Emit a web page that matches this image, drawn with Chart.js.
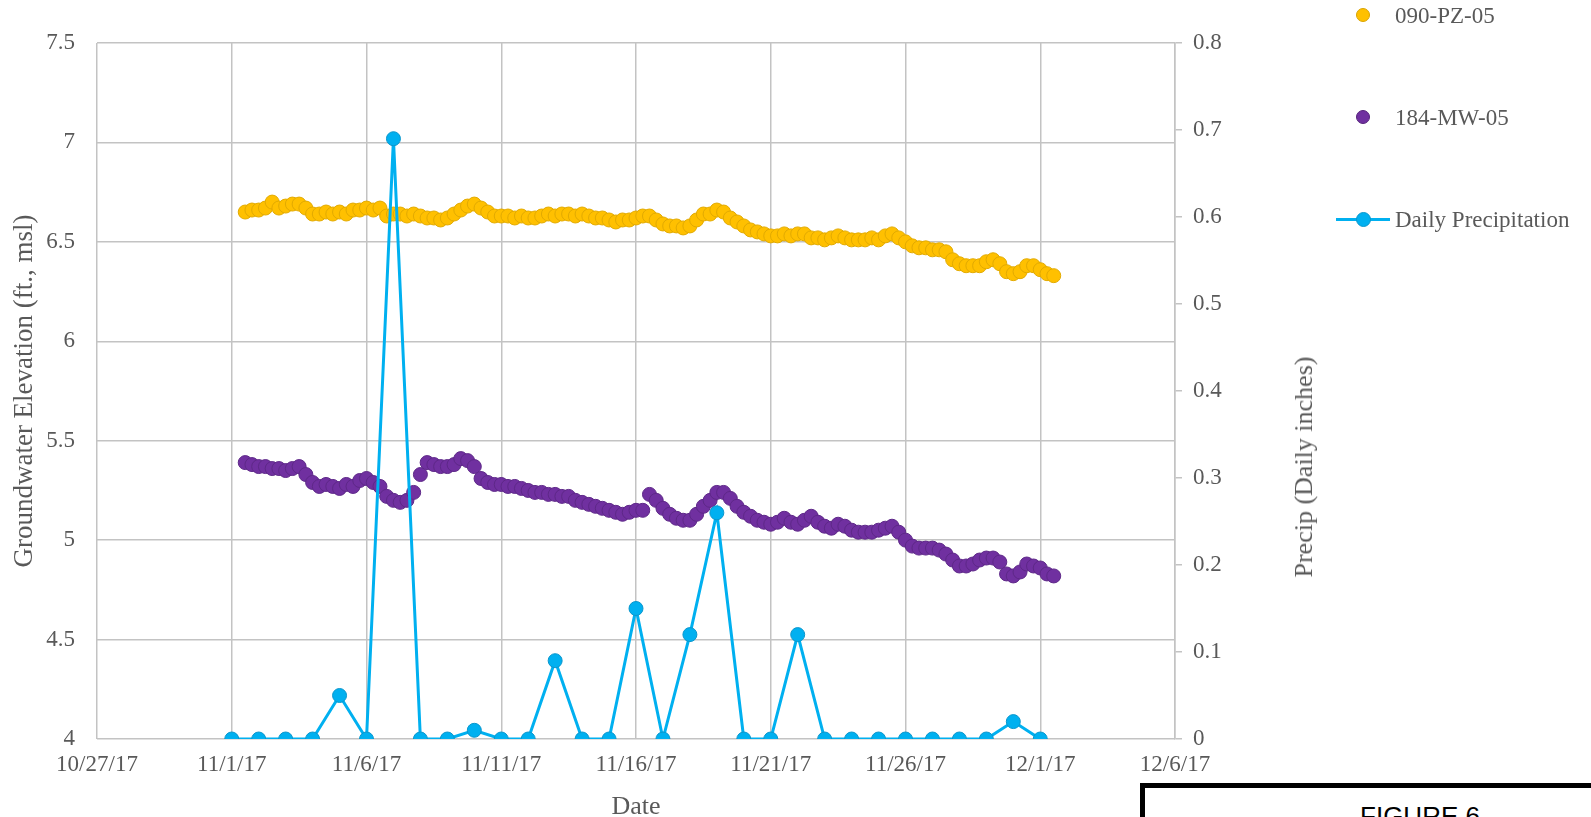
<!DOCTYPE html>
<html>
<head>
<meta charset="utf-8">
<script src="https://cdn.jsdelivr.net/npm/chart.js@4.4.0/dist/chart.umd.min.js"></script>
<style>
html,body{margin:0;padding:0;background:#fff;}
#wrap{position:relative;width:1591px;height:817px;overflow:hidden;background:#fff;}
#c{position:absolute;left:0;top:0;}
.lg{position:absolute;font-family:'Liberation Serif','Times New Roman',serif;font-size:23px;line-height:23px;color:#595959;white-space:nowrap;}
.dot{position:absolute;border-radius:50%;box-sizing:border-box;}
#ytitle2{position:absolute;left:1304px;top:467px;transform:translate(-50%,-50%) rotate(-90deg);font-family:'Liberation Serif','Times New Roman',serif;font-size:26px;line-height:26px;color:#595959;white-space:nowrap;}
#figbox{position:absolute;left:1140px;top:783px;width:620px;height:200px;border:5px solid #000;box-sizing:border-box;background:#fff;}
#figtxt{position:absolute;left:1420px;top:803px;transform:translateX(-50%);font-family:'Liberation Sans',Arial,sans-serif;font-size:26px;line-height:26px;color:#000;white-space:nowrap;}
</style>
</head>
<body>
<div id="wrap">
  <canvas id="c" width="1591" height="817"></canvas>
  <div class="dot" style="left:1356px;top:8px;width:14px;height:14px;background:#FFC000;border:1px solid #D9A300;"></div>
  <div class="lg" style="left:1395px;top:4px;">090-PZ-05</div>
  <div class="dot" style="left:1356px;top:110px;width:14px;height:14px;background:#7030A0;border:1px solid #55237A;"></div>
  <div class="lg" style="left:1395px;top:106px;">184-MW-05</div>
  <div style="position:absolute;left:1336px;top:218px;width:54px;height:3px;background:#00B0F0;"></div>
  <div class="dot" style="left:1356px;top:212px;width:15px;height:15px;background:#00B0F0;border:1px solid #0A96CC;"></div>
  <div class="lg" style="left:1395px;top:208px;">Daily Precipitation</div>
  <div id="ytitle2">Precip (Daily inches)</div>
  <div id="figbox"></div>
  <div id="figtxt">FIGURE 6</div>
</div>
<script>
// ---------------- data ----------------
const baseDate = '11/1/17';                 // day 0 of the x axis
const xTickLabels = ['10/27/17','11/1/17','11/6/17','11/11/17','11/16/17','11/21/17','11/26/17','12/1/17','12/6/17'];
const leftTicks = [4, 4.5, 5, 5.5, 6, 6.5, 7, 7.5];
const rightTicks = [0, 0.1, 0.2, 0.3, 0.4, 0.5, 0.6, 0.7, 0.8];

const precipDates = ['11/1/17','11/2/17','11/3/17','11/4/17','11/5/17','11/6/17','11/7/17','11/8/17',
  '11/9/17','11/10/17','11/11/17','11/12/17','11/13/17','11/14/17','11/15/17','11/16/17','11/17/17',
  '11/18/17','11/19/17','11/20/17','11/21/17','11/22/17','11/23/17','11/24/17','11/25/17','11/26/17',
  '11/27/17','11/28/17','11/29/17','11/30/17','12/1/17'];
const precipInches = [0,0,0,0,0.05,0,0.69,0,0,0.01,0,0,0.09,0,0,0.15,0,0.12,0.26,0,0,0.12,0,0,0,0,0,0,0,0.02,0];

// groundwater readings, one every 6 hours starting 11/1/17 12:00
const gwFirstReading = '11/1/17 12:00';
const gwIntervalHours = 6;
const pz05 = [
 6.65,6.66,
 6.66,6.67,6.70,6.67,
 6.68,6.69,6.69,6.67,
 6.64,6.64,6.65,6.64,
 6.65,6.64,6.66,6.66,
 6.67,6.66,6.67,6.63,
 6.64,6.64,6.63,6.64,
 6.63,6.62,6.62,6.61,
 6.62,6.64,6.66,6.68,
 6.69,6.67,6.65,6.63,
 6.63,6.63,6.62,6.63,
 6.62,6.62,6.63,6.64,
 6.63,6.64,6.64,6.63,
 6.64,6.63,6.62,6.62,
 6.61,6.60,6.61,6.61,
 6.62,6.63,6.63,6.61,
 6.59,6.58,6.58,6.57,
 6.58,6.61,6.64,6.64,
 6.66,6.65,6.62,6.60,
 6.58,6.56,6.55,6.54,
 6.53,6.53,6.54,6.53,
 6.54,6.54,6.52,6.52,
 6.51,6.52,6.53,6.52,
 6.51,6.51,6.51,6.52,
 6.51,6.53,6.54,6.52,
 6.50,6.48,6.47,6.47,
 6.46,6.46,6.45,6.41,
 6.39,6.38,6.38,6.38,
 6.40,6.41,6.39,6.35,
 6.34,6.35,6.38,6.38,
 6.36,6.34,6.33];
const mw05 = [
 5.39,5.38,
 5.37,5.37,5.36,5.36,
 5.35,5.36,5.37,5.33,
 5.29,5.27,5.28,5.27,
 5.26,5.28,5.27,5.30,
 5.31,5.29,5.27,5.22,
 5.20,5.19,5.20,5.24,
 5.33,5.39,5.38,5.37,
 5.37,5.38,5.41,5.40,
 5.37,5.31,5.29,5.28,
 5.28,5.27,5.27,5.26,
 5.25,5.24,5.24,5.23,
 5.23,5.22,5.22,5.20,
 5.19,5.18,5.17,5.16,
 5.15,5.14,5.13,5.14,
 5.15,5.15,5.23,5.20,
 5.16,5.13,5.11,5.10,
 5.10,5.13,5.17,5.20,
 5.24,5.24,5.21,5.17,
 5.14,5.12,5.10,5.09,
 5.08,5.09,5.11,5.09,
 5.08,5.10,5.12,5.09,
 5.07,5.06,5.08,5.07,
 5.05,5.04,5.04,5.04,
 5.05,5.06,5.07,5.04,
 5.00,4.97,4.96,4.96,
 4.96,4.95,4.93,4.90,
 4.87,4.87,4.88,4.90,
 4.91,4.91,4.89,4.83,
 4.82,4.84,4.88,4.87,
 4.86,4.83,4.82];

// ---------------- helpers ----------------
function parseDate(s){
  const [d, t] = s.split(' ');
  const [m, day, yy] = d.split('/').map(Number);
  let h = 0, mi = 0;
  if (t) { [h, mi] = t.split(':').map(Number); }
  return new Date(2000 + yy, m - 1, day, h, mi);
}
const base = parseDate(baseDate);
const toDay = s => (parseDate(s) - base) / 86400000;
const gwStart = toDay(gwFirstReading);
const gwPoints = arr => arr.map((v, i) => ({x: gwStart + i * gwIntervalHours / 24, y: v}));
const precipPoints = precipDates.map((d, i) => ({x: toDay(d), y: precipInches[i]}));
const xMin = toDay(xTickLabels[0]), xMax = toDay(xTickLabels[xTickLabels.length - 1]);

const TXT = '#595959';
const GRID = '#C3C3C3';
const serif = "'Liberation Serif','Times New Roman',serif";

new Chart(document.getElementById('c'), {
  type: 'scatter',
  data: {
    datasets: [
      {
        label: 'Daily Precipitation', data: precipPoints, yAxisID: 'y2', showLine: true, order: 0,
        borderColor: '#00B0F0', borderWidth: 3, tension: 0,
        pointRadius: 7, pointBackgroundColor: '#00B0F0', pointBorderColor: '#0A96CC', pointBorderWidth: 1
      },
      {
        label: '184-MW-05', data: gwPoints(mw05), yAxisID: 'y', order: 1,
        pointRadius: 7, backgroundColor: '#7030A0', borderColor: '#5E2888', pointBorderWidth: 1
      },
      {
        label: '090-PZ-05', data: gwPoints(pz05), yAxisID: 'y', order: 2,
        pointRadius: 7, backgroundColor: '#FFC000', borderColor: '#E2AA00', pointBorderWidth: 1
      }
    ]
  },
  options: {
    responsive: false, animation: false,
    layout: {padding: {top: 43, left: 0, right: 0, bottom: 0}},
    plugins: {legend: {display: false}, tooltip: {enabled: false}},
    scales: {
      x: {
        type: 'linear', position: 'bottom', min: xMin, max: xMax,
        afterBuildTicks: s => { s.ticks = xTickLabels.map(l => ({value: toDay(l)})); },
        ticks: {
          callback: (v) => { const i = xTickLabels.findIndex(l => Math.abs(toDay(l) - v) < 1e-6); return i >= 0 ? xTickLabels[i] : ''; },
          color: TXT, font: {family: serif, size: 23}, padding: 12, maxRotation: 0, autoSkip: false
        },
        grid: {color: GRID, lineWidth: 1.5, drawTicks: false},
        border: {display: false},
        title: {display: true, text: 'Date', color: TXT, font: {family: serif, size: 26, lineHeight: 0.78}, padding: {top: 0, bottom: 0}},
        afterFit: s => { s.height = 78; }
      },
      y: {
        type: 'linear', position: 'left', min: leftTicks[0], max: leftTicks[leftTicks.length - 1],
        afterBuildTicks: s => { s.ticks = leftTicks.map(v => ({value: v})); },
        ticks: {callback: v => String(v), color: TXT, font: {family: serif, size: 23}, padding: 22},
        grid: {color: GRID, lineWidth: 1.5, drawTicks: false},
        border: {display: false},
        title: {display: true, text: 'Groundwater Elevation (ft., msl)', color: TXT, font: {family: serif, size: 27, lineHeight: 1.2}, padding: {top: 9, bottom: 0}},
        afterFit: s => { s.width = 97; }
      },
      y2: {
        type: 'linear', position: 'right', min: rightTicks[0], max: rightTicks[rightTicks.length - 1],
        afterBuildTicks: s => { s.ticks = rightTicks.map(v => ({value: v})); },
        ticks: {callback: v => String(Math.round(v * 10) / 10), color: TXT, font: {family: serif, size: 23}, padding: 11},
        grid: {drawOnChartArea: false, color: GRID, lineWidth: 1.5, tickLength: 7, drawTicks: true},
        border: {display: true, color: GRID, width: 1.5},
        afterFit: s => { s.width = 416; }
      }
    }
  }
});
</script>
</body>
</html>
